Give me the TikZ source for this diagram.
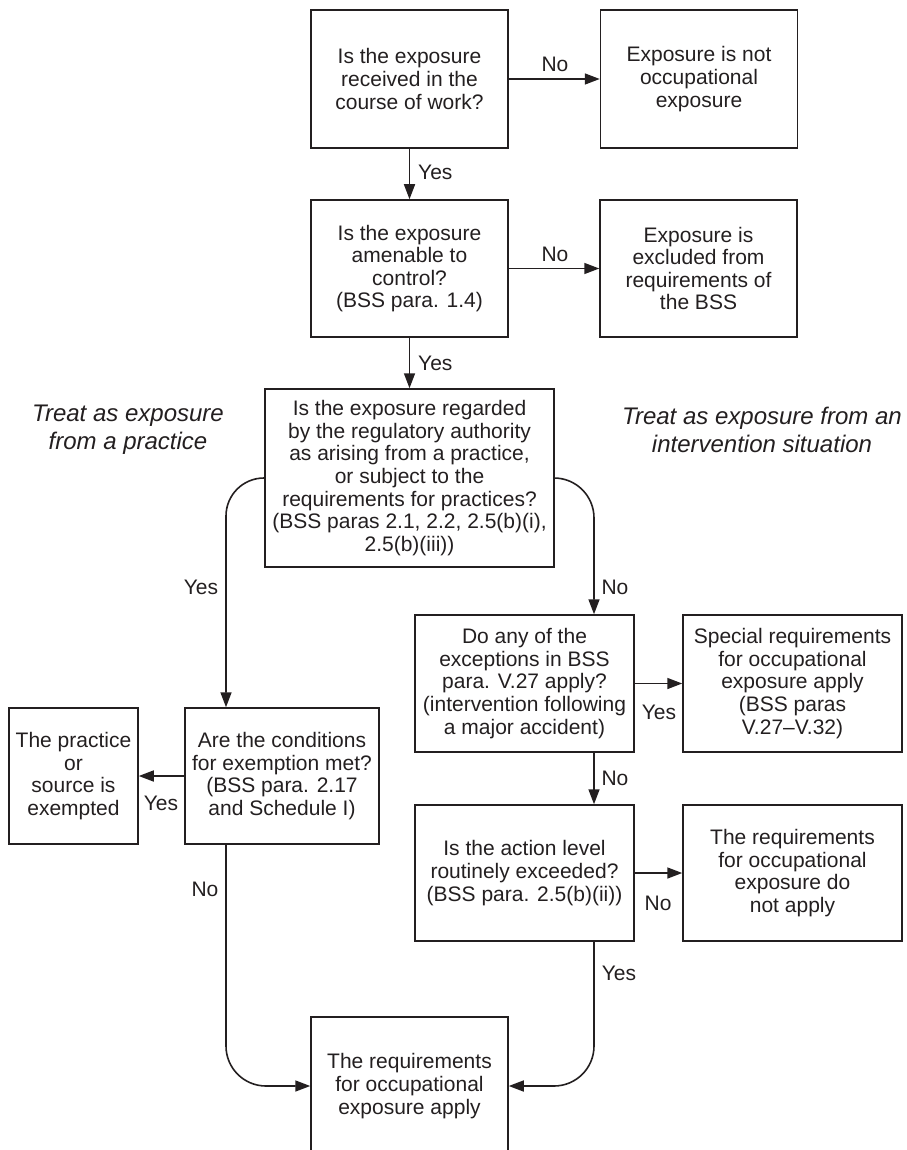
\documentclass[tikz,border=0pt]{standalone}
\usepackage{fontspec}
\setmainfont{Liberation Sans}
\usetikzlibrary{arrows.meta}
\definecolor{ink}{RGB}{35,31,32}
\begin{document}
\begin{tikzpicture}[x=1pt,y=-1pt,
  box/.style={draw=ink, line width=1.5pt, align=center, inner sep=2pt,
    font=\fontsize{21}{22.6}\selectfont, text=ink},
  arr/.style={draw=ink, line width=1.6pt, -{Triangle[length=15pt,width=11pt]}},
  lab/.style={font=\fontsize{21}{22.6}\selectfont, text=ink, inner sep=0pt},
  side/.style={font=\fontsize{24}{28}\selectfont\itshape, align=center, text=ink, inner sep=0pt}]
\useasboundingbox (0,0) rectangle (906,1150);

% boxes
\node[box, minimum width=197, minimum height=138] (q1) at (409.5,79)
  {Is the exposure\\received in the\\course of work?};
\node[box, minimum width=197, minimum height=138] (n1) at (699,79)
  {Exposure is not\\occupational\\exposure};
\node[box, minimum width=197, minimum height=137] (q2) at (409.5,268.5)
  {Is the exposure\\amenable to\\control?\\(BSS para. 1.4)};
\node[box, minimum width=197, minimum height=137] (n2) at (698.5,268.5)
  {Exposure is\\excluded from\\requirements of\\the BSS};
\node[box, minimum width=289, minimum height=178] (q3) at (409.5,478)
  {Is the exposure regarded\\by the regulatory authority\\as arising from a practice,\\or subject to the\\requirements for practices?\\(BSS paras 2.1, 2.2, 2.5(b)(i),\\2.5(b)(iii))};
\node[box, minimum width=194, minimum height=136] (q4) at (282,776)
  {Are the conditions\\for exemption met?\\(BSS para. 2.17\\and Schedule I)};
\node[box, minimum width=129, minimum height=136] (e1) at (73.5,776)
  {The practice\\or\\source is\\exempted};
\node[box, minimum width=219, minimum height=137] (q5) at (524.5,683.5)
  {Do any of the\\exceptions in BSS\\para. V.27 apply?\\(intervention following\\a major accident)};
\node[box, minimum width=219, minimum height=137] (s1) at (792.5,683.5)
  {Special requirements\\for occupational\\exposure apply\\(BSS paras\\V.27--V.32)};
\node[box, minimum width=219, minimum height=136] (q6) at (524.5,873)
  {Is the action level\\routinely exceeded?\\(BSS para. 2.5(b)(ii))};
\node[box, minimum width=219, minimum height=136] (n3) at (792.5,873)
  {The requirements\\for occupational\\exposure do\\not apply};
\node[box, minimum width=197, minimum height=138] (r) at (409.5,1086)
  {The requirements\\for occupational\\exposure apply};

% side texts
\node[side] (tl) at (128,430) {Treat as exposure\\from a practice};
\node[side] (tr) at (762,430) {Treat as exposure from an\\intervention situation};

% connectors
\draw[arr] (q1.east) -- (n1.west);
\draw[arr] (q1.south) -- (q2.north);
\draw[arr] (q2.east) -- (n2.west);
\draw[arr] (q2.south) -- (q3.north);
\draw[arr, rounded corners=38] (q3.west) -| ([xshift=-56]q4.north);
\draw[arr, rounded corners=40] (q3.east) -| ([xshift=69.5]q5.north);
\draw[arr] (q5.east) -- (s1.west);
\draw[arr] ([xshift=69.5]q5.south) -- ([xshift=69.5]q6.north);
\draw[arr] (q6.east) -- (n3.west);
\draw[arr] (q4.west) -- (e1.east);
\draw[arr, rounded corners=40] ([xshift=-56]q4.south) |- (r.west);
\draw[arr, rounded corners=40] ([xshift=69.5]q6.south) |- (r.east);

% labels
\node[lab] (l1) at (555,64) {No};
\node[lab, anchor=west] (l2) at (418,172) {Yes};
\node[lab] (l3) at (555,254) {No};
\node[lab, anchor=west] (l4) at (418,363) {Yes};
\node[lab] (l5) at (201,587) {Yes};
\node[lab] (l6) at (615,587) {No};
\node[lab] (l7) at (659,712) {Yes};
\node[lab] (l8) at (615,778) {No};
\node[lab] (l9) at (161,803) {Yes};
\node[lab] (l10) at (205,889) {No};
\node[lab] (l11) at (619,973) {Yes};
\node[lab] (l12) at (658,903) {No};
\end{tikzpicture}
\end{document}
